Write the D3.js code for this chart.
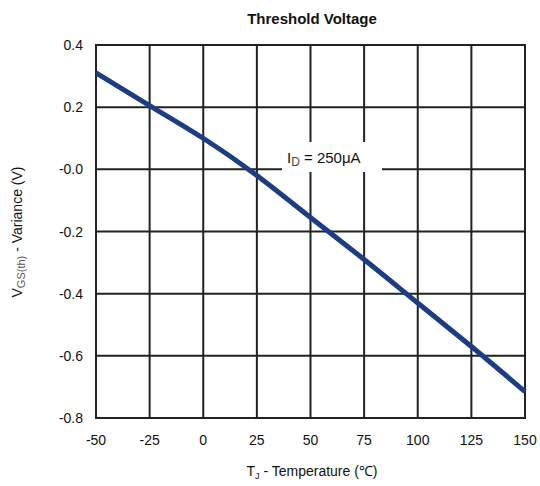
<!DOCTYPE html>
<html>
<head>
<meta charset="utf-8">
<script src="https://cdn.jsdelivr.net/npm/d3@7/dist/d3.min.js"></script>
<style>
  body { margin: 0; background: #fff; }
  text { font-family: "Liberation Sans", Arial, sans-serif; fill: #111; }
</style>
</head>
<body>
<svg id="chart" width="540" height="486"></svg>
<script>
// data
var temps = [-50, -25, 0, 25, 50, 75, 100, 125, 150];
var variance = [0.31, 0.205, 0.10, -0.02, -0.155, -0.29, -0.43, -0.57, -0.715];
var xTicks = [-50, -25, 0, 25, 50, 75, 100, 125, 150];
var yTicks = [0.4, 0.2, 0.0, -0.2, -0.4, -0.6, -0.8];

var svg = d3.select("#chart");
// note: "top" is taken by window.top, so use plot* names
var plotLeft = 96, plotRight = 525, plotTop = 45, plotBottom = 418;

var x = d3.scaleLinear().domain([-50, 150]).range([plotLeft, plotRight]);
var y = d3.scaleLinear().domain([-0.8, 0.4]).range([plotBottom, plotTop]);

// grid
var grid = svg.append("g").attr("stroke", "#222").attr("stroke-width", 2);
grid.selectAll("line.v").data(xTicks).enter().append("line")
  .attr("x1", function(d) { return x(d); }).attr("x2", function(d) { return x(d); })
  .attr("y1", plotTop).attr("y2", plotBottom);
grid.selectAll("line.h").data(yTicks).enter().append("line")
  .attr("y1", function(d) { return y(d); }).attr("y2", function(d) { return y(d); })
  .attr("x1", plotLeft).attr("x2", plotRight);
grid.append("rect")
  .attr("x", plotLeft).attr("y", plotTop)
  .attr("width", plotRight - plotLeft).attr("height", plotBottom - plotTop)
  .attr("fill", "none");

// curve
var pts = temps.map(function(t, i) { return [t, variance[i]]; });
var line = d3.line()
  .x(function(d) { return x(d[0]); })
  .y(function(d) { return y(d[1]); })
  .curve(d3.curveNatural);
svg.append("path")
  .datum(pts)
  .attr("d", line)
  .attr("fill", "none")
  .attr("stroke", "#1d3c86")
  .attr("stroke-width", 5);

// annotation with white box over grid
svg.append("rect")
  .attr("x", 282).attr("y", 142).attr("width", 100).attr("height", 30)
  .attr("fill", "#fff");
var ann = svg.append("text").attr("x", 287).attr("y", 163).attr("font-size", 15);
ann.append("tspan").text("I");
ann.append("tspan").attr("font-size", 12).attr("dy", 3).attr("fill", "#444").text("D");
ann.append("tspan").attr("dy", -3).text(" = 250\u03bcA");

// axis labels
svg.selectAll("text.yl").data(yTicks).enter().append("text")
  .attr("x", 83).attr("y", function(d) { return y(d) + 5; })
  .attr("text-anchor", "end").attr("font-size", 14)
  .text(function(d) { return d === 0 ? "-0.0" : d.toFixed(1); });

svg.selectAll("text.xl").data(xTicks).enter().append("text")
  .attr("x", function(d) { return x(d); }).attr("y", 445)
  .attr("text-anchor", "middle").attr("font-size", 14)
  .text(function(d) { return d; });

svg.append("text")
  .attr("x", 312).attr("y", 24)
  .attr("text-anchor", "middle").attr("font-size", 15).attr("font-weight", "bold")
  .text("Threshold Voltage");

var xt = svg.append("text")
  .attr("x", 312).attr("y", 476)
  .attr("text-anchor", "middle").attr("font-size", 14);
xt.append("tspan").text("T");
xt.append("tspan").attr("font-size", 9).attr("dy", 3).text("J");
xt.append("tspan").attr("dy", -3).text(" - Temperature (\u2103)");

var yt = svg.append("text")
  .attr("transform", "translate(22,232) rotate(-90)")
  .attr("text-anchor", "middle").attr("font-size", 14);
yt.append("tspan").text("V");
yt.append("tspan").attr("font-size", 11).attr("dy", 3).attr("fill", "#555").text("GS(th)");
yt.append("tspan").attr("dy", -3).text(" - Variance (V)");
</script>
</body>
</html>
